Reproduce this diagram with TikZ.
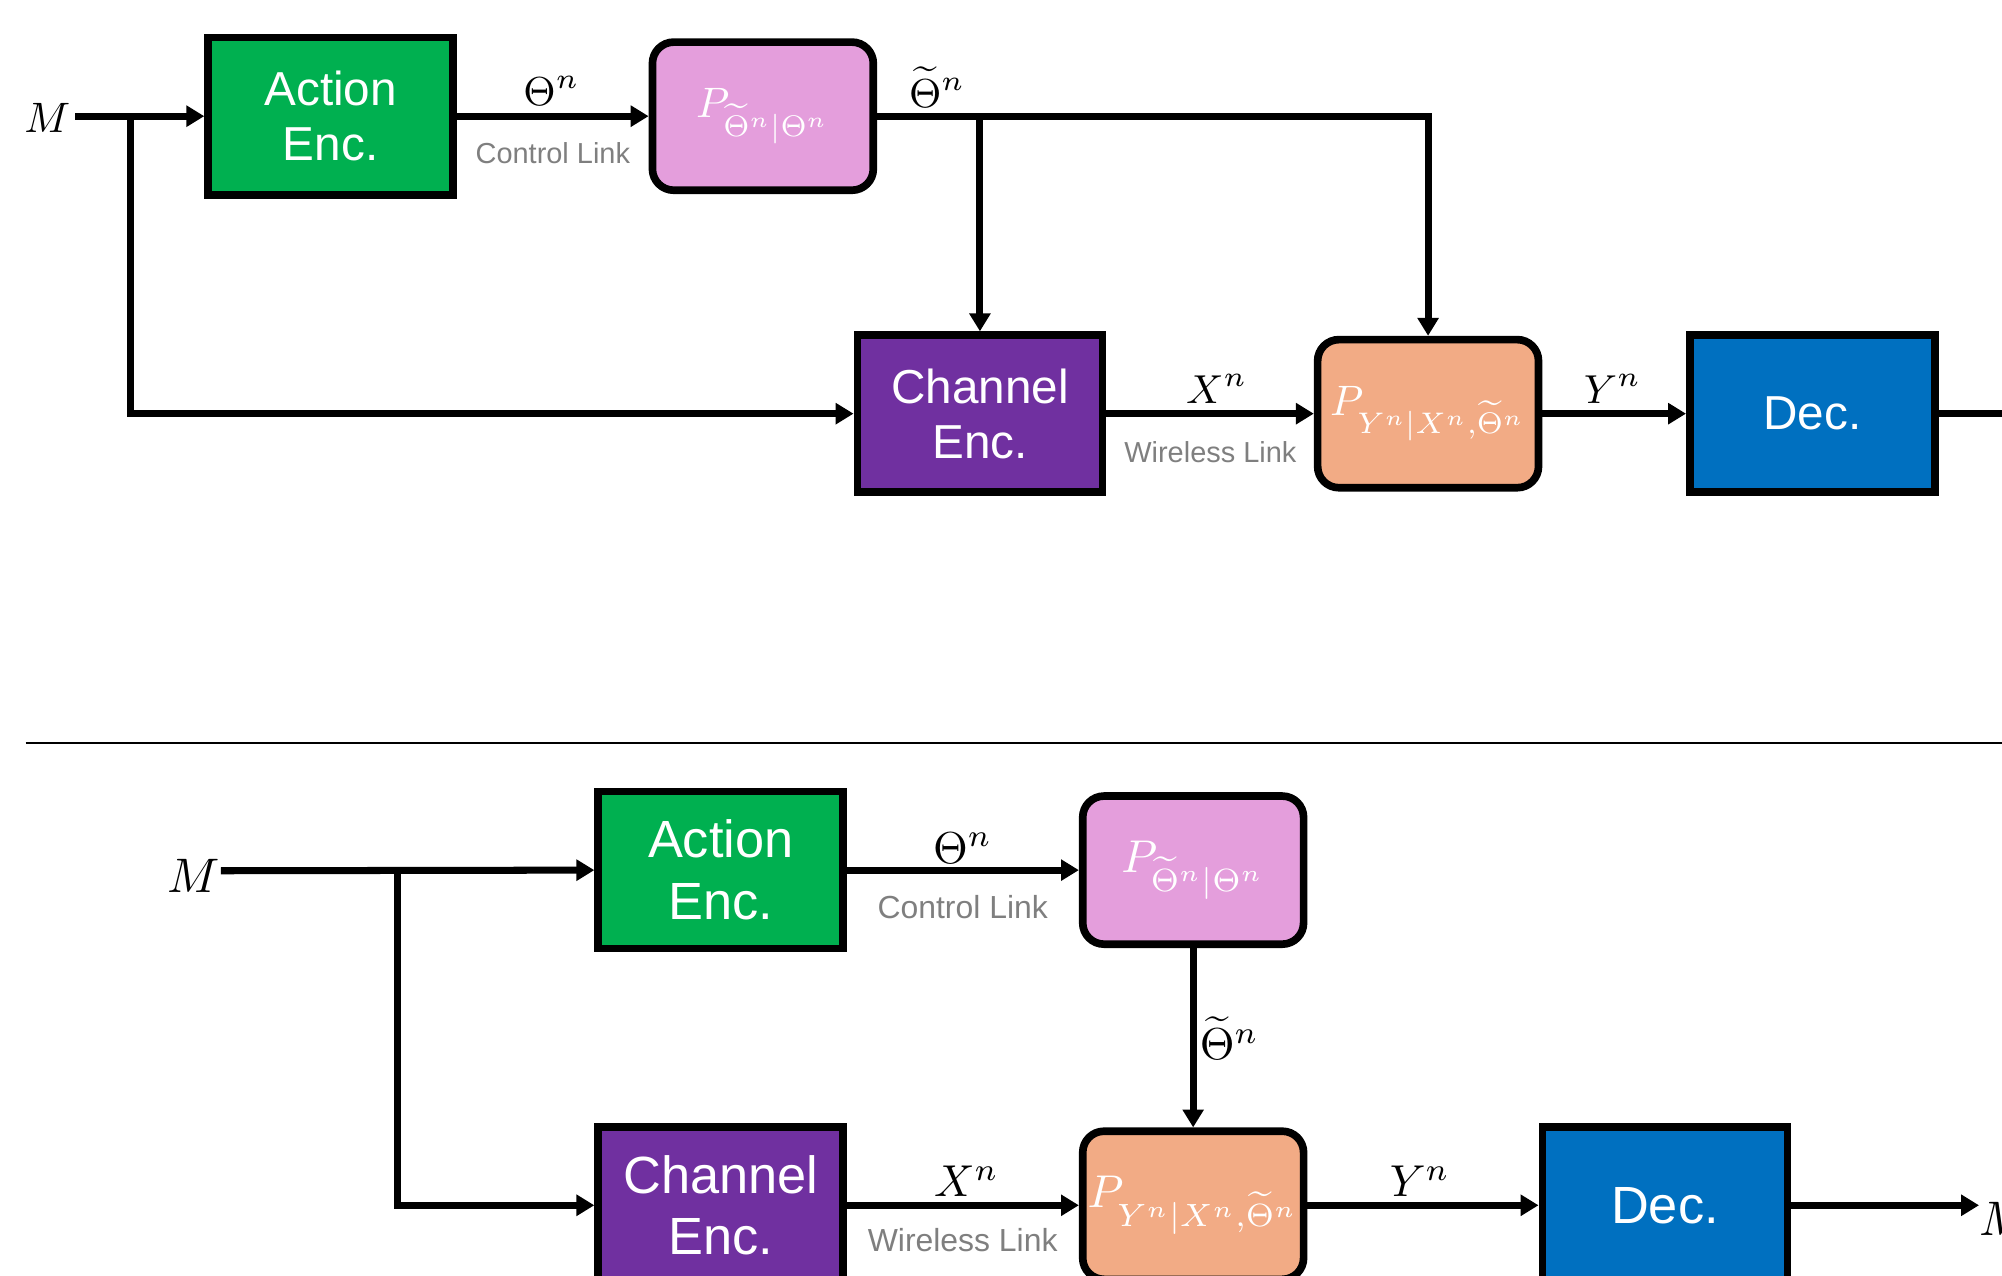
\RequirePackage{fix-cm}
\documentclass[tikz,border=0pt]{standalone}
\usepackage[no-math]{fontspec}
\newfontfamily\arial{Liberation Sans}
\usetikzlibrary{arrows.meta}
\definecolor{agreen}{HTML}{00B050}
\definecolor{apurple}{HTML}{7030A0}
\definecolor{ablue}{HTML}{0070C0}
\definecolor{apink}{HTML}{E49EDC}
\definecolor{aorange}{HTML}{F2AB85}
\definecolor{agray}{HTML}{7F7F7F}
\newcommand\topf{\arial\fontsize{11.2}{13}\selectfont}
\newcommand\botf{\arial\fontsize{12.3}{14.5}\selectfont}
\newcommand\tlinkf{\arial\fontsize{6.8}{8}\selectfont}
\newcommand\blinkf{\arial\fontsize{7.5}{9}\selectfont}
\newcommand\tlab{\fontsize{9.5}{11}\selectfont}
\newcommand\blab{\fontsize{10.5}{12}\selectfont}
\newcommand\tmlab{\fontsize{10}{12}\selectfont}
\newcommand\bmlab{\fontsize{11.4}{13}\selectfont}
\newcommand\tpf{\fontsize{10}{12}\selectfont}
\newcommand\bpf{\fontsize{10.8}{13}\selectfont}
\begin{document}
\begin{tikzpicture}[x=0.3pt,y=-0.3pt,
  sqbox/.style={draw=black, line width=1.8pt, minimum width=57.6pt, minimum height=36.9pt,
    inner sep=0pt, text=white, align=center},
  rbox/.style={sqbox, rounded corners=5pt, minimum width=51.9pt, minimum height=34.8pt},
  arr/.style={line width=1.65pt, -{Triangle[length=4.2pt,width=4.8pt]}},
  plain/.style={line width=1.65pt},
  lab/.style={inner sep=0pt, anchor=base},
  linklab/.style={inner sep=0pt, anchor=base, text=agray}]
\useasboundingbox (0,0) rectangle (1568,999);
\clip (0,0) rectangle (1568,999);

% ---------------- top diagram ----------------
\node[sqbox, fill=agreen, font=\topf] (a1) at (259,91) {Action\\Enc.};
\node[rbox, fill=apink, font=\tpf] (p1) at (597.5,91) {$P_{\widetilde{\Theta}^n|\Theta^n}$};
\node[sqbox, fill=apurple, font=\topf] (c1) at (767.5,324) {Channel\\Enc.};
\node[rbox, fill=aorange, font=\tpf] (o1) at (1118.5,324) {$P_{Y^n|X^n,\widetilde{\Theta}^n}$};
\node[sqbox, fill=ablue, font=\topf] (d1) at (1419.5,324) {Dec.};

\node[lab, font=\tmlab] (m1) at (37,104) {$M$};
\node[lab, font=\tlab] (t1) at (432,83) {$\Theta^n$};
\node[linklab, font=\tlinkf] (cl1) at (433,128) {Control Link};
\node[lab, font=\tlab] (tt1) at (734,84) {$\widetilde{\Theta}^n$};
\node[lab, font=\tlab] (x1) at (953,316) {$X^n$};
\node[linklab, font=\tlinkf] (wl1) at (948,362) {Wireless Link};
\node[lab, font=\tlab] (y1) at (1263,316) {$Y^n$};

\coordinate (ms1) at (59,91);
\coordinate (br1) at (102.5,91);
\coordinate (br2) at (767.5,91);
\coordinate (out1) at (1600,324);
\draw[arr] (ms1) -- (a1.west);
\draw[arr] (br1) |- (c1.west);
\draw[arr] (a1.east) -- (p1.west);
\draw[arr] (p1.east) -| (o1.north);
\draw[arr] (br2) -- (c1.north);
\draw[arr] (c1.east) -- (o1.west);
\draw[arr] (o1.east) -- (d1.west);
\draw[plain] (d1.east) -- (out1);

% ---------------- separator ----------------
\draw[line width=0.5pt] (20,582) -- (1600,582);

% ---------------- bottom diagram ----------------
\node[sqbox, fill=agreen, font=\botf] (a2) at (564.5,681.5) {Action\\Enc.};
\node[rbox, fill=apink, font=\bpf] (p2) at (934.5,681.5) {$P_{\widetilde{\Theta}^n|\Theta^n}$};
\node[sqbox, fill=apurple, font=\botf] (c2) at (564.5,944) {Channel\\Enc.};
\node[rbox, fill=aorange, font=\bpf] (o2) at (934.5,944) {$P_{Y^n|X^n,\widetilde{\Theta}^n}$};
\node[sqbox, fill=ablue, font=\botf] (d2) at (1304,944) {Dec.};

\node[lab, font=\bmlab] (m2) at (152,699) {$M$};
\node[lab, font=\blab] (t2) at (754,676) {$\Theta^n$};
\node[linklab, font=\blinkf] (cl2) at (754,719) {Control Link};
\node[inner sep=0pt, anchor=west, font=\blab] (tt2) at (939,813) {$\widetilde{\Theta}^n$};
\node[lab, font=\blab] (x2) at (757,937.5) {$X^n$};
\node[linklab, font=\blinkf] (wl2) at (754,980.5) {Wireless Link};
\node[lab, font=\blab] (y2) at (1112,937.5) {$Y^n$};
\node[inner sep=0pt, anchor=base west, font=\bmlab] (mh) at (1550,968) {$\hat{M}$};

\coordinate (ms2) at (173,682);
\coordinate (br3) at (311,682);
\draw[arr] (ms2) -- (a2.west);
\draw[arr] (br3) |- (c2.west);
\draw[arr] (a2.east) -- (p2.west);
\draw[arr] (p2.south) -- (o2.north);
\draw[arr] (c2.east) -- (o2.west);
\draw[arr] (o2.east) -- (d2.west);
\draw[arr] (d2.east) -- (d2.east -| mh.west);
\end{tikzpicture}
\end{document}
